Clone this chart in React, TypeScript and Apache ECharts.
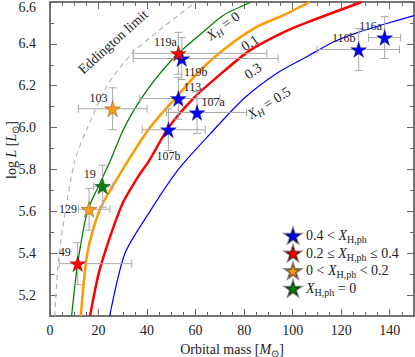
import React, { useEffect, useRef } from 'react';
import * as echarts from 'echarts';

const FONT = "'Liberation Serif','Times New Roman',serif";
const STAR =
  'path://M0,-10 L2.245,-3.09 L9.511,-3.09 L3.633,1.18 L5.878,8.09 L0,3.82 L-5.878,8.09 L-3.633,1.18 L-9.511,-3.09 L-2.245,-3.09 Z';

// Axis ticks
const xMajorTicks = [0, 20, 40, 60, 80, 100, 120, 140];
const xMinorTicks = [0, 5, 10, 15, 20, 25, 30, 35, 40, 45, 50, 55, 60, 65, 70, 75, 80, 85, 90, 95, 100, 105, 110, 115, 120, 125, 130, 135, 140, 145, 150];
const yMajorTicks = [5.2, 5.4, 5.6, 5.8, 6.0, 6.2, 6.4, 6.6];
const yMinorTicks = [5.1, 5.2, 5.3, 5.4, 5.5, 5.6, 5.7, 5.8, 5.9, 6.0, 6.1, 6.2, 6.3, 6.4, 6.5, 6.6];

// Eddington limit
const eddMass = [1.9, 3.5, 6.3, 10.3, 15.1, 23.5, 33.7, 45, 53, 60];
const eddLogL = [5.1, 5.367, 5.6, 5.845, 5.99, 6.2, 6.354, 6.465, 6.537, 6.6];

// Mass-luminosity curves for X_H = 0, 0.1, 0.3, 0.5
const h0Mass = [8.9, 11.4, 15.4, 20, 25, 30.2, 37.1, 44, 52.5, 61.9, 71.5, 83];
const h0LogL = [5.1, 5.35, 5.6, 5.72, 5.845, 5.99, 6.13, 6.24, 6.35, 6.445, 6.537, 6.6];
const h1Mass = [12.7, 15.4, 20.6, 30, 41.2, 52.2, 61.9, 72.9, 85.2, 96.2, 107];
const h1LogL = [5.1, 5.4, 5.61, 5.8, 6.0, 6.147, 6.274, 6.385, 6.481, 6.537, 6.6];
const h3Mass = [16.5, 20, 24.5, 30, 36, 41, 48.8, 59.1, 68.7, 82.5, 96.2, 106.5, 128.5];
const h3LogL = [5.1, 5.3, 5.47, 5.64, 5.76, 5.845, 6.0, 6.14, 6.24, 6.37, 6.455, 6.505, 6.6];
const h5Mass = [24.6, 30.9, 41.2, 52.9, 66, 80, 93.5, 106, 117, 127, 138, 150];
const h5LogL = [5.1, 5.4, 5.6, 5.8, 5.97, 6.14, 6.26, 6.34, 6.41, 6.455, 6.495, 6.535];

// Stars: 0.4 < X_H,ph (blue)
const blueNames = ['116a', '116b', '119b', '113', '107a', '107b'];
const blueMass = [137.9, 127.2, 54.3, 52.9, 60.6, 48.8];
const blueLogL = [6.43, 6.373, 6.33, 6.139, 6.072, 5.99];
const blueMassLo = [131.3, 110, 34.3, 37.1, 48, 38];
const blueMassHi = [144.5, 144, 94, 70, 81, 64];
const blueLogLLo = [6.33, 6.273, 6.23, 6.04, 5.972, 5.89];
const blueLogLHi = [6.53, 6.473, 6.43, 6.24, 6.172, 6.09];

// 0.2 <= X_H,ph <= 0.4 (red)
const redNames = ['119a', '49'];
const redMass = [52.9, 11.4];
const redLogL = [6.355, 5.35];
const redMassLo = [34.3, 3.8];
const redMassHi = [89.4, 33.7];
const redLogLLo = [6.255, 5.25];
const redLogLHi = [6.455, 5.45];

// 0 < X_H,ph < 0.2 (orange)
const orangeNames = ['103', '129'];
const orangeMass = [25.8, 16.1];
const orangeLogL = [6.09, 5.61];
const orangeMassLo = [11.7, 11.7];
const orangeMassHi = [40, 24.7];
const orangeLogLLo = [5.99, 5.51];
const orangeLogLHi = [6.19, 5.71];

// X_H,ph = 0 (green)
const greenNames = ['19'];
const greenMass = [21.7];
const greenLogL = [5.72];
const greenMassLo = [18];
const greenMassHi = [26];
const greenLogLLo = [5.62];
const greenLogLHi = [5.82];

// label offsets (px) relative to star centre
const labelOffset: Record<string, [number, number]> = {
  '116a': [-14, -12],
  '116b': [-15, -12],
  '119b': [14, 13],
  '113': [14, -12],
  '107a': [16, -11],
  '107b': [0, 26],
  '119a': [-13, -11],
  '49': [-13, -12],
  '103': [-14, -11],
  '129': [-21, 0],
  '19': [-13, -12],
};

const zip = (a: number[], b: number[]) => a.map((v, i) => [v, b[i]]);

const richBase = {
  i: { fontFamily: FONT, fontStyle: 'italic', fontSize: 14, color: '#222' },
  s: { fontFamily: FONT, fontSize: 10, color: '#222', padding: [8, 0, 0, 0] },
  si: { fontFamily: FONT, fontStyle: 'italic', fontSize: 10, color: '#222', padding: [8, 0, 0, 0] },
  n: { fontFamily: FONT, fontSize: 14, color: '#222' },
};

export default function App() {
  const ref = useRef<HTMLDivElement>(null);
  useEffect(() => {
    document.body.style.margin = '0';
    if (!ref.current) return;
    const chart = echarts.init(ref.current, undefined, { renderer: 'svg' });

    const axisLineStyle = { color: '#4a4a4a', width: 1.5 };
    const tickStyle = { color: '#666', width: 1 };

    const mkX = (pos: string, major: boolean, labels: boolean) => ({
      type: 'value',
      position: pos,
      offset: 0,
      min: 0,
      max: 150,
      axisLine: { show: major, onZero: false, lineStyle: axisLineStyle },
      axisTick: {
        show: true,
        inside: true,
        length: major ? 7 : 4,
        customValues: major ? xMajorTicks : xMinorTicks,
        lineStyle: tickStyle,
      },
      axisLabel: labels
        ? { show: true, customValues: xMajorTicks, margin: 7, fontFamily: FONT, fontSize: 14, color: '#222' }
        : { show: false },
      splitLine: { show: false },
    });
    const mkY = (pos: string, major: boolean, labels: boolean) => ({
      type: 'value',
      position: pos,
      offset: 0,
      min: 5.1,
      max: 6.6,
      axisLine: { show: major, onZero: false, lineStyle: axisLineStyle },
      axisTick: {
        show: true,
        inside: true,
        length: major ? 7 : 4,
        customValues: major ? yMajorTicks : yMinorTicks,
        lineStyle: tickStyle,
      },
      axisLabel: labels
        ? {
            show: true,
            customValues: yMajorTicks,
            margin: 14,
            fontFamily: FONT,
            fontSize: 14,
            color: '#222',
            formatter: (v: number) => (Math.abs(v - 6.6) < 1e-6 ? '{t|6.6}' : v.toFixed(1)),
            rich: { t: { fontFamily: FONT, fontSize: 14, color: '#222', padding: [10, 0, 0, 0] } },
          }
        : { show: false },
      splitLine: { show: false },
    });

    const xAxes: any[] = [mkX('bottom', true, true), mkX('bottom', false, false), mkX('top', true, false), mkX('top', false, false)];
    xAxes[0].name = 'Orbital mass [{i|M}{s|⊙}]';
    xAxes[0].nameLocation = 'middle';
    xAxes[0].nameGap = 24;
    xAxes[0].nameTextStyle = { fontFamily: FONT, fontSize: 14, color: '#222', rich: richBase };
    const yAxes: any[] = [mkY('left', true, true), mkY('left', false, false), mkY('right', true, false), mkY('right', false, false)];

    const curve = (data: number[][], color: string, width: number, dashed = false) => ({
      type: 'line',
      data,
      showSymbol: false,
      symbol: 'none',
      smooth: 0.25,
      silent: true,
      z: 2,
      lineStyle: { color, width, type: dashed ? [5, 4] : 'solid' },
    });

    const errRows: number[][] = [];
    const addErr = (m: number[], l: number[], mlo: number[], mhi: number[], llo: number[], lhi: number[]) => {
      m.forEach((_, i) => errRows.push([m[i], l[i], mlo[i], mhi[i], llo[i], lhi[i]]));
    };
    addErr(blueMass, blueLogL, blueMassLo, blueMassHi, blueLogLLo, blueLogLHi);
    addErr(redMass, redLogL, redMassLo, redMassHi, redLogLLo, redLogLHi);
    addErr(orangeMass, orangeLogL, orangeMassLo, orangeMassHi, orangeLogLLo, orangeLogLHi);
    addErr(greenMass, greenLogL, greenMassLo, greenMassHi, greenLogLLo, greenLogLHi);

    const stars = (name: string, names: string[], m: number[], l: number[], color: string) => ({
      type: 'scatter',
      name,
      symbol: STAR,
      symbolSize: 16,
      z: 5,
      itemStyle: { color, borderColor: 'rgba(0,0,0,0.45)', borderWidth: 0.6, opacity: 1 },
      emphasis: { disabled: true },
      data: names.map((n, i) => ({
        name: n,
        value: [m[i], l[i]],
        label: { offset: labelOffset[n] },
      })),
      label: {
        show: true,
        position: 'inside',
        formatter: (p: any) => p.name,
        fontFamily: FONT,
        fontSize: 12,
        color: '#222',
        textBorderWidth: 0,
      },
    });

    const legendText: Record<string, string> = {
      b: '{n|0.4 < }{i|X}{s|H,ph}',
      r: '{n|0.2 ≤ }{i|X}{s|H,ph}{n| ≤ 0.4}',
      o: '{n|0 < }{i|X}{s|H,ph}{n| < 0.2}',
      g: '{i|X}{s|H,ph}{n| = 0}',
    };

    const textG = (text: string, x: number, y: number, deg: number, size: number, color = '#222') => ({
      type: 'text',
      x,
      y,
      rotation: (deg * Math.PI) / 180,
      z: 10,
      style: {
        text,
        fontFamily: FONT,
        fontSize: size,
        fill: color,
        align: 'center',
        verticalAlign: 'middle',
        rich: {
          i: { fontFamily: FONT, fontStyle: 'italic', fontSize: size, fill: color },
          si: { fontFamily: FONT, fontStyle: 'italic', fontSize: size - 4, fill: color, padding: [8, 0, 0, 0] },
          s: { fontFamily: FONT, fontSize: size - 4, fill: color, padding: [8, 0, 0, 0] },
          n: { fontFamily: FONT, fontSize: size, fill: color },
        },
      },
    });

    chart.setOption({
      animation: false,
      grid: { left: 50, right: 1, top: 2, bottom: 41, containLabel: false, outerBoundsMode: 'none' },
      xAxis: xAxes,
      yAxis: yAxes,
      legend: {
        orient: 'vertical',
        left: 279,
        top: 222,
        itemWidth: 16,
        itemHeight: 16,
        itemGap: 0,
        icon: STAR,
        data: ['b', 'r', 'o', 'g'],
        formatter: (n: string) => legendText[n],
        textStyle: { fontFamily: FONT, fontSize: 14, color: '#222', rich: richBase },
        selectedMode: false,
      },
      graphic: [
        textG('{n|log }{i|L}{n| [}{i|L}{s|⊙}{n|]}', 11, 150, 90, 14),
        textG('Eddington limit', 113, 42, 42, 14, '#222'),
        textG('{i|X}{si|H}{n| = 0}', 223, 26, 37, 14),
        textG('0.1', 250, 43, 33, 14),
        textG('0.3', 253, 71, 35, 14),
        textG('{i|X}{si|H}{n| = 0.5}', 269, 103, 32, 14),
      ],
      series: [
        curve(zip(eddMass, eddLogL), '#b4b4b4', 1.2, true),
        curve(zip(h0Mass, h0LogL), '#008000', 1.3),
        curve(zip(h1Mass, h1LogL), '#ff9900', 2.5),
        curve(zip(h3Mass, h3LogL), '#ff0000', 2.5),
        curve(zip(h5Mass, h5LogL), '#0000ff', 1.2),
        {
          type: 'custom',
          z: 3,
          silent: true,
          data: errRows,
          encode: { x: 0, y: 1 },
          renderItem: (_p: any, api: any) => {
            const x = api.value(0);
            const y = api.value(1);
            const pL = api.coord([api.value(2), y]);
            const pR = api.coord([api.value(3), y]);
            const pB = api.coord([x, api.value(4)]);
            const pT = api.coord([x, api.value(5)]);
            const c = 4;
            const style = { stroke: '#a8a8a8', lineWidth: 1 };
            const ln = (x1: number, y1: number, x2: number, y2: number) => ({
              type: 'line',
              shape: { x1, y1, x2, y2 },
              style,
            });
            return {
              type: 'group',
              children: [
                ln(pL[0], pL[1], pR[0], pR[1]),
                ln(pL[0], pL[1] - c, pL[0], pL[1] + c),
                ln(pR[0], pR[1] - c, pR[0], pR[1] + c),
                ln(pB[0], pB[1], pT[0], pT[1]),
                ln(pB[0] - c, pB[1], pB[0] + c, pB[1]),
                ln(pT[0] - c, pT[1], pT[0] + c, pT[1]),
              ],
            };
          },
        },
        stars('b', blueNames, blueMass, blueLogL, '#0000ff'),
        stars('r', redNames, redMass, redLogL, '#ff0000'),
        stars('o', orangeNames, orangeMass, orangeLogL, '#f79a1e'),
        stars('g', greenNames, greenMass, greenLogL, '#0a7d0a'),
      ],
    });
    return () => chart.dispose();
  }, []);
  return <div ref={ref} style={{ width: 415, height: 357 }} />;
}
